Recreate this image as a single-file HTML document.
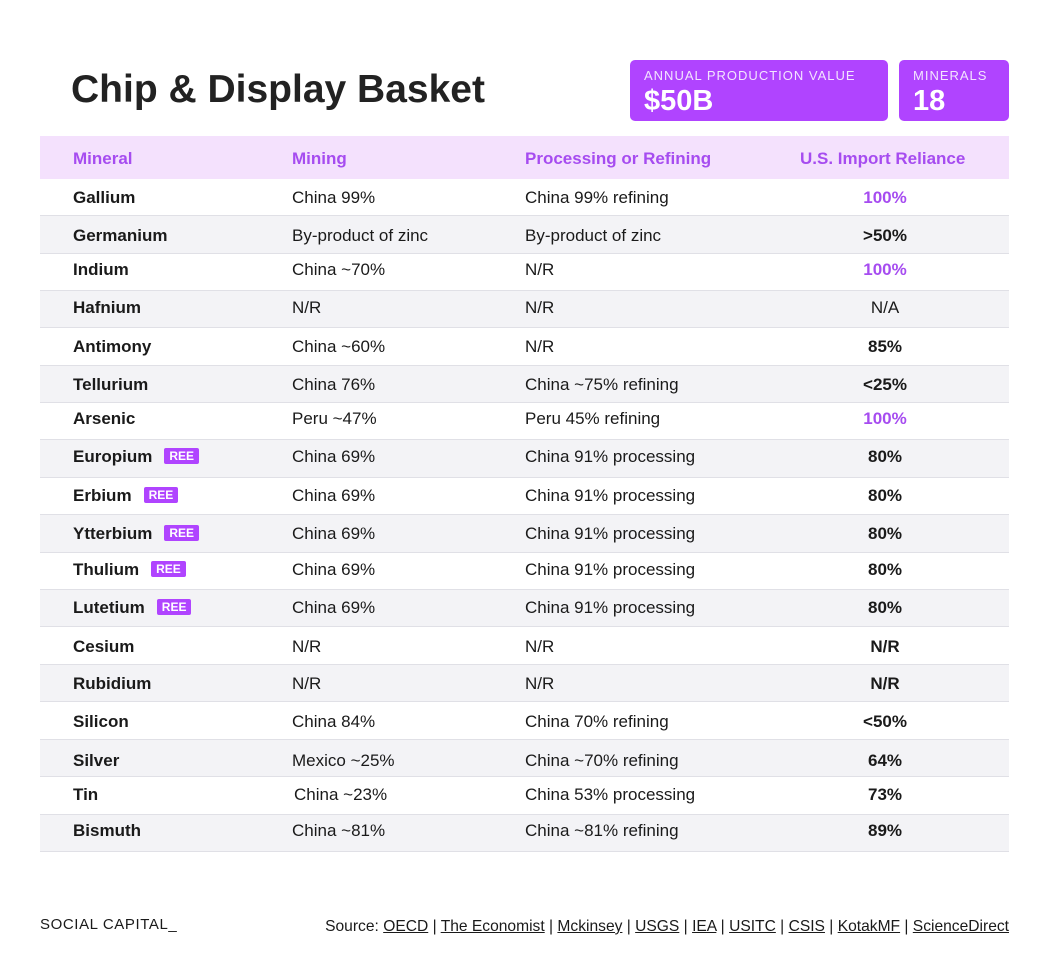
<!DOCTYPE html>
<html><head><meta charset="utf-8">
<style>
body{margin:0;width:1045px;height:975px;background:#fff;font-family:"Liberation Sans",sans-serif;position:relative;overflow:hidden;color:#1a1a1a}
.a{position:absolute;white-space:nowrap}
.title{left:71px;top:68px;font-size:39px;font-weight:bold;color:#222}
.box{position:absolute;background:#b044ff;border-radius:5px;color:#fff}
.box .l{position:absolute;left:14px;top:8px;font-size:13px;letter-spacing:1px;color:#f3e4ff}
.box .v{position:absolute;left:14px;top:25px;font-size:29px;font-weight:bold}
.hdr{position:absolute;left:40px;top:136px;width:969px;height:43px;background:#f4e1fd}
.hdr span{position:absolute;top:13px;font-size:17px;font-weight:bold;color:#a64cf0}
.row{position:absolute;left:40px;width:969px;border-bottom:1.5px solid #e0e0e6}
.cell{position:absolute;font-size:17px;transform:translateY(-50%)}
.ree{display:inline-block;background:#b044ff;color:#fff;font-size:12px;font-weight:bold;padding:1px 5px;border-radius:2px;margin-left:12px;vertical-align:2px}
.src a{color:#1a1a1a;text-decoration:underline}
</style></head><body>
<div class="a title">Chip &amp; Display Basket</div>
<div class="box" style="left:630px;top:60px;width:258px;height:61px"><div class="l">ANNUAL PRODUCTION VALUE</div><div class="v">$50B</div></div>
<div class="box" style="left:899px;top:60px;width:110px;height:61px"><div class="l">MINERALS</div><div class="v">18</div></div>
<div class="hdr">
<span style="left:33px">Mineral</span>
<span style="left:252px">Mining</span>
<span style="left:485px">Processing or Refining</span>
<span style="left:760px">U.S. Import Reliance</span>
</div>
<div id="tbl"></div>
<div class="a" style="left:40px;top:916px;letter-spacing:0.6px;font-size:15px;font-weight:500">SOCIAL CAPITAL_</div>
<div class="a src" style="right:36px;top:918px;font-size:15.6px">Source: <a>OECD</a> | <a>The Economist</a> | <a>Mckinsey</a> | <a>USGS</a> | <a>IEA</a> | <a>USITC</a> | <a>CSIS</a> | <a>KotakMF</a> | <a>ScienceDirect</a></div>
<script>
const minerals=["Gallium","Germanium","Indium","Hafnium","Antimony","Tellurium","Arsenic","Europium","Erbium","Ytterbium","Thulium","Lutetium","Cesium","Rubidium","Silicon","Silver","Tin","Bismuth"];
const ree=[0,0,0,0,0,0,0,1,1,1,1,1,0,0,0,0,0,0];
const mining=["China 99%","By-product of zinc","China ~70%","N/R","China ~60%","China 76%","Peru ~47%","China 69%","China 69%","China 69%","China 69%","China 69%","N/R","N/R","China 84%","Mexico ~25%","China ~23%","China ~81%"];
const processing=["China 99% refining","By-product of zinc","N/R","N/R","N/R","China ~75% refining","Peru 45% refining","China 91% processing","China 91% processing","China 91% processing","China 91% processing","China 91% processing","N/R","N/R","China 70% refining","China ~70% refining","China 53% processing","China ~81% refining"];
const reliance=["100%",">50%","100%","N/A","85%","<25%","100%","80%","80%","80%","80%","80%","N/R","N/R","<50%","64%","73%","89%"];
const edges=[179,216,254,291,328,366,403,440,478,515,553,590,627,665,702,740,777,815,852];
const textY=[198,236,270,308,347,385,419,457,496,534,570,608,647,684,722,761,795,831];
const tbl=document.getElementById('tbl');
minerals.forEach((m,i)=>{
 const r=document.createElement('div');
 
 
 r.className='row';
 r.style.top=edges[i]+'px';r.style.height=(edges[i+1]-edges[i]-1.5)+'px';
 r.style.background=i%2?'#f3f3f6':'#fff';
 const ty=textY[i]-edges[i];
 const mk=(x,html,extra,name)=>{const c=document.createElement('div');c.className='cell';c.style.left=x+'px';c.style.top=ty+'px';c.innerHTML=html;if(extra)Object.assign(c.style,extra);
  
  
  r.appendChild(c);};
 mk(33,'<b>'+m+'</b>'+(ree[i]?'<span class="ree">REE</span>':''),null,'mineral-name');
 mk(m==='Tin'?254:252,mining[i],null,'mining-value');
 mk(485,processing[i],null,'processing-value');
 const v=reliance[i];
 const st={left:'845px',width:'0',display:'flex',justifyContent:'center',fontWeight:v==='N/A'?'normal':'bold',color:v==='100%'?'#a64cf0':'#1a1a1a'};
 mk(845,v,st,'import-reliance-value');
 tbl.appendChild(r);
});
</script>
</body></html>
